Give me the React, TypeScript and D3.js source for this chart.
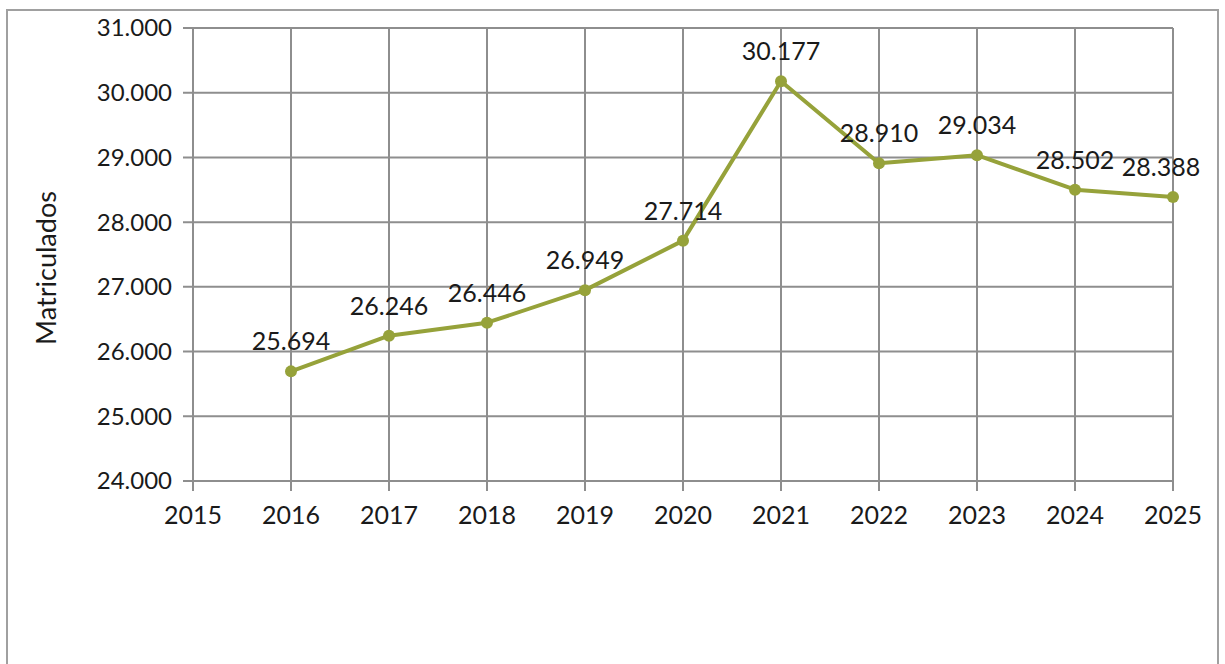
import React from "react";
import * as d3 from "d3";

const years = [2016, 2017, 2018, 2019, 2020, 2021, 2022, 2023, 2024, 2025];
const matriculados = [25694, 26246, 26446, 26949, 27714, 30177, 28910, 29034, 28502, 28388];
const xTicks = [2015, 2016, 2017, 2018, 2019, 2020, 2021, 2022, 2023, 2024, 2025];
const yTicks = [24000, 25000, 26000, 27000, 28000, 29000, 30000, 31000];
const yTitle = "Matriculados";

const fmt = (v: number) => d3.format(",")(v).replace(/,/g, ".");

export default function App() {
  const W = 1225, H = 664;
  const x = d3.scaleLinear().domain([2015, 2025]).range([193, 1173]);
  const y = d3.scaleLinear().domain([24000, 31000]).range([481, 28]);
  const pts = years.map((yr, i) => ({ yr, v: matriculados[i] }));
  const line = d3.line<{ yr: number; v: number }>().x(d => x(d.yr)).y(d => y(d.v));
  const font = "Lato, 'Open Sans', sans-serif";
  const grid = "#8e8e8e";
  const col = "#96a23a";
  const fs = 25;
  return (
    <svg width={W} height={H} style={{ position: "absolute", left: 0, top: 0, background: "#fff" }}>
      <rect x={7} y={10} width={1211} height={700} fill="none" stroke="#a0a0a0" strokeWidth={2} />
      {yTicks.map(t => (
        <g key={"y" + t}>
          <line x1={183} x2={x(2025)} y1={y(t)} y2={y(t)} stroke={grid} strokeWidth={2} />
          <text x={172} y={y(t)} dy="0.35em" textAnchor="end" fontFamily={font} fontSize={fs - 1} fill="#1a1a1a">{fmt(t)}</text>
        </g>
      ))}
      {xTicks.map(t => (
        <g key={"x" + t}>
          <line x1={x(t)} x2={x(t)} y1={y(31000)} y2={491} stroke={grid} strokeWidth={2} />
          <text x={x(t)} y={524} textAnchor="middle" fontFamily={font} fontSize={fs} fill="#1a1a1a">{t}</text>
        </g>
      ))}
      <text transform={`translate(56,${268}) rotate(-90)`} textAnchor="middle" fontFamily={font} fontSize={27} fill="#1a1a1a">{yTitle}</text>
      <path d={line(pts) || ""} fill="none" stroke={col} strokeWidth={4} strokeLinejoin="round" />
      {pts.map(p => (
        <circle key={"c" + p.yr} cx={x(p.yr)} cy={y(p.v)} r={6} fill={col} />
      ))}
      {pts.map(p => (
        <text key={"l" + p.yr} x={x(p.yr) - (p.yr === 2025 ? 12 : 0)} y={y(p.v) - 21} textAnchor="middle" fontFamily={font} fontSize={fs} fill="#1a1a1a">{fmt(p.v)}</text>
      ))}
    </svg>
  );
}
